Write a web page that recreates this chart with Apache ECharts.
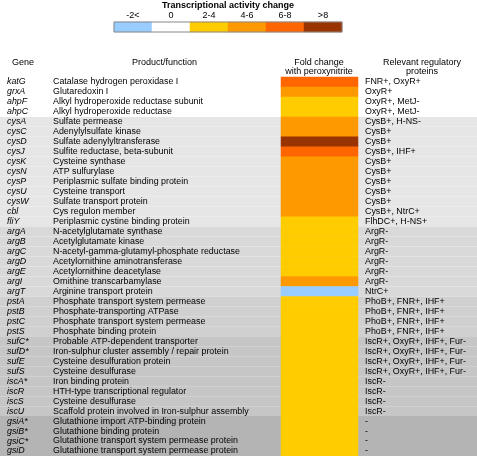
<!DOCTYPE html>
<html><head><meta charset="utf-8">
<script src="https://cdn.jsdelivr.net/npm/echarts@6/dist/echarts.min.js"></script>
<style>html,body{margin:0;padding:0;background:#fff}#c{width:477px;height:456px}</style>
</head><body><div id="c"></div>
<script>
const legendLabels = ['-2<', '0', '2-4', '4-6', '6-8', '>8'];
const legendColors = ['#99ccff', '#ffffff', '#ffcc00', '#ff9900', '#ff6600', '#993300'];

const genes = ['katG','grxA','ahpF','ahpC','cysA','cysC','cysD','cysJ','cysK','cysN','cysP','cysU','cysW','cbl','fliY',
  'argA','argB','argC','argD','argE','argI','argT','pstA','pstB','pstC','pstS',
  'sufC*','sufD*','sufE','sufS','iscA*','iscR','iscS','iscU','gsiA*','gsiB*','gsiC*','gsiD'];
const products = ['Catalase hydrogen peroxidase I','Glutaredoxin I','Alkyl hydroperoxide reductase subunit','Alkyl hydroperoxide reductase',
  'Sulfate permease','Adenylylsulfate kinase','Sulfate adenylyltransferase','Sulfite reductase, beta-subunit','Cysteine synthase',
  'ATP sulfurylase','Periplasmic sulfate binding protein','Cysteine transport','Sulfate transport protein','Cys regulon member',
  'Periplasmic cystine binding protein',
  'N-acetylglutamate synthase','Acetylglutamate kinase','N-acetyl-gamma-glutamyl-phosphate reductase','Acetylornithine aminotransferase',
  'Acetylornithine deacetylase','Ornithine transcarbamylase','Arginine transport protein',
  'Phosphate transport system permease','Phosphate-transporting ATPase','Phosphate transport system permease','Phosphate binding protein',
  'Probable ATP-dependent transporter','Iron-sulphur cluster assembly / repair protein','Cysteine desulfuration protein','Cysteine desulfurase',
  'Iron binding protein','HTH-type transcriptional regulator','Cysteine desulfurase','Scaffold protein involved in Iron-sulphur assembly',
  'Glutathione import ATP-binding protein','Glutathione binding protein','Glutathione transport system permease protein','Glutathione transport system permease protein'];
const regulators = ['FNR+, OxyR+','OxyR+','OxyR+, MetJ-','OxyR+, MetJ-',
  'CysB+, H-NS-','CysB+','CysB+','CysB+, IHF+','CysB+','CysB+','CysB+','CysB+','CysB+','CysB+, NtrC+','FlhDC+, H-NS+',
  'ArgR-','ArgR-','ArgR-','ArgR-','ArgR-','ArgR-','NtrC+',
  'PhoB+, FNR+, IHF+','PhoB+, FNR+, IHF+','PhoB+, FNR+, IHF+','PhoB+, FNR+, IHF+',
  'IscR+, OxyR+, IHF+, Fur-','IscR+, OxyR+, IHF+, Fur-','IscR+, OxyR+, IHF+, Fur-','IscR+, OxyR+, IHF+, Fur-',
  'IscR-','IscR-','IscR-','IscR-','-','-','-','-'];
const foldChange = ['6-8','4-6','2-4','2-4',
  '4-6','4-6','>8','6-8','4-6','4-6','4-6','4-6','4-6','4-6','2-4',
  '2-4','2-4','2-4','2-4','2-4','4-6','-2<',
  '2-4','2-4','2-4','2-4','2-4','2-4','2-4','2-4','2-4','2-4','2-4','2-4','2-4','2-4','2-4','2-4'];
const geneGroup = [0,0,0,0, 1,1,1,1,1,1,1,1,1,1,1, 2,2,2,2,2,2,2, 3,3,3,3, 4,4,4,4,4,4,4,4, 5,5,5,5];
const bandColors = ['#ffffff','#e6e6e6','#d9d9d9','#d0d0d0','#c6c6c6','#b4b4b4'];

const FONT = 'Liberation Sans, Arial, sans-serif';
const chart = echarts.init(document.getElementById('c'), null, {renderer: 'canvas'});

const rowData = genes.map((g, i) => [0, i, geneGroup[i]]);
const heatData = genes.map((g, i) => [0, i, legendLabels.indexOf(foldChange[i])]);
const legendData = legendLabels.map((l, i) => [i, 0, i]);

const hdr = (text, x, y) => ({type: 'text', x: x, y: y, style: {text: text, align: 'center', verticalAlign: 'middle', fontSize: 9, fontFamily: FONT, fill: '#000'}});

chart.setOption({
  animation: false,
  backgroundColor: '#fff',
  grid: [
    {left: 281, width: 77, top: 77, height: 380},
    {left: 114, width: 228, top: 22, height: 10, show: true, borderColor: '#888', borderWidth: 1, backgroundColor: 'transparent', z: 5}
  ],
  xAxis: [
    {gridIndex: 0, type: 'category', data: ['fold'], show: false},
    {gridIndex: 1, type: 'category', data: legendLabels, position: 'top',
     axisLine: {show: false}, axisTick: {show: false},
     axisLabel: {show: true, margin: 2, fontSize: 9, color: '#000', fontFamily: FONT}}
  ],
  yAxis: [
    {gridIndex: 0, type: 'category', data: genes, inverse: true, show: false},
    {gridIndex: 1, type: 'category', data: ['legend'], show: false}
  ],
  visualMap: {
    type: 'piecewise', show: false, dimension: 2, seriesIndex: [2, 3],
    pieces: legendLabels.map((l, i) => ({value: i, color: legendColors[i]}))
  },
  graphic: [
    {type: 'text', x: 228, y: 6, style: {text: 'Transcriptional activity change', align: 'center', verticalAlign: 'middle', fontSize: 9, fontWeight: 'bold', fontFamily: FONT, fill: '#000'}},
    hdr('Gene', 23, 62.5),
    hdr('Product/function', 164.5, 62.5),
    hdr('Fold change', 319, 62.5),
    hdr('with peroxynitrite', 319, 72),
    hdr('Relevant regulatory', 422, 62.5),
    hdr('proteins', 422, 72)
  ],
  series: [
    {
      type: 'custom', xAxisIndex: 0, yAxisIndex: 0, z: 0, silent: true,
      data: rowData,
      renderItem: function (params, api) {
        const c = api.coord([0, api.value(1)]);
        const h = api.size([0, 1])[1];
        return {type: 'rect', shape: {x: 0, y: c[1] - h / 2, width: api.getWidth(), height: h},
          style: {fill: bandColors[api.value(2)]}};
      }
    },
    {
      type: 'custom', xAxisIndex: 0, yAxisIndex: 0, z: 1, silent: true,
      data: rowData,
      renderItem: function (params, api) {
        const i = api.value(1);
        const y = api.coord([0, i])[1];
        const base = {verticalAlign: 'middle', align: 'left', fontSize: 8.9, fontFamily: FONT, fill: '#000'};
        return {type: 'group', children: [
          {type: 'text', x: 7, y: y, style: Object.assign({}, base, {text: genes[i], fontStyle: 'italic'})},
          {type: 'text', x: 53, y: y, style: Object.assign({}, base, {text: products[i]})},
          {type: 'text', x: 365, y: y, style: Object.assign({}, base, {text: regulators[i]})}
        ]};
      }
    },
    {
      type: 'heatmap', xAxisIndex: 0, yAxisIndex: 0, z: 2, data: heatData,
      itemStyle: {borderWidth: 0}, emphasis: {disabled: true}
    },
    {
      type: 'heatmap', xAxisIndex: 1, yAxisIndex: 1, z: 2, data: legendData,
      itemStyle: {borderWidth: 0}, emphasis: {disabled: true}
    }
  ]
});
</script></body></html>
